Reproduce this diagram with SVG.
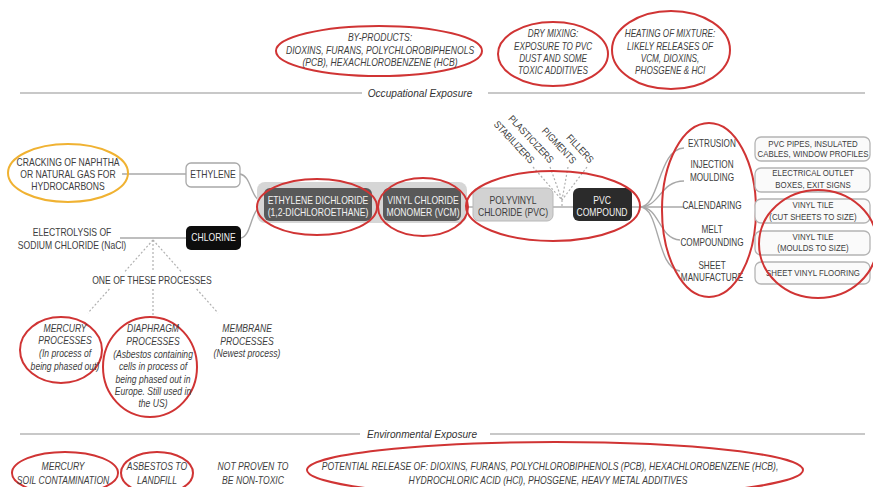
<svg xmlns="http://www.w3.org/2000/svg" width="873" height="487" viewBox="0 0 873 487">
  <style>
    text { font-family: "Liberation Sans", Arial, sans-serif; font-size: 10px; fill: #3d3d3d; text-anchor: middle;
           transform-box: fill-box; transform-origin: center; transform: scaleX(0.86); }
    .it { font-style: italic; }
    .nx { transform: scaleX(0.82); }
    .sm { font-size: 9.6px; transform: scaleX(0.82); }
    .hd { font-size: 11.5px; font-style: italic; fill: #333; transform: scaleX(0.88); }
    .wt { fill: #f2f2f2; }
    .ring { fill: none; stroke: #d03434; stroke-width: 2; }
    .ring-y { fill: none; stroke: #f0b232; stroke-width: 2; }
    .rule { stroke: #c8c8c8; stroke-width: 2; }
    .edge { fill: none; stroke: #a8a8a8; stroke-width: 1.4; }
    .dot { fill: none; stroke: #b0b0b0; stroke-width: 1.2; stroke-dasharray: 2 2; }
    .pbox { fill: #fafafa; stroke: #b4b4b4; stroke-width: 1.3; }
  </style>
  <rect width="873" height="487" fill="#ffffff"/>

  <!-- section rules -->
  <g id="rules">
    <line class="rule" x1="20" y1="93" x2="362" y2="93"/>
    <text class="hd" x="420" y="97">Occupational Exposure</text>
    <line class="rule" x1="488" y1="93" x2="865" y2="93"/>
    <line class="rule" x1="20" y1="434" x2="360" y2="434"/>
    <text class="hd" x="422" y="438">Environmental Exposure</text>
    <line class="rule" x1="490" y1="434" x2="865" y2="434"/>
  </g>

  <!-- connectors -->
  <g id="connectors">
    <line class="edge" x1="122" y1="174" x2="186" y2="174"/>
    <line class="edge" x1="120" y1="238" x2="186" y2="238"/>
    <path class="edge" d="M240,174 C252,176 250,200 264,203"/>
    <path class="edge" d="M241,238 C252,236 250,208 264,205"/>
    <line class="edge" x1="460" y1="207" x2="473" y2="207"/>
    <line class="edge" x1="553" y1="207" x2="573" y2="207"/>
    <path class="edge" d="M632,207 L640,207"/>
    <path class="edge" d="M640,207 C660,207 658,149 684,148"/>
    <path class="edge" d="M640,207 C660,207 660,181 684,181"/>
    <path class="edge" d="M640,207 L684,207"/>
    <path class="edge" d="M640,207 C660,207 658,238 680,240"/>
    <path class="edge" d="M640,207 C660,207 656,268 680,271"/>
    <!-- additives converge onto the PVC line -->
    <path class="dot" d="M533,167 L562,200 M550,167 L562,200 M568,167 L562,200 M587,167 L562,200 M562,200 L562,207"/>
    <!-- electrolysis process options -->
    <path class="dot" d="M153,240 L124.5,272 M109.4,289 L88,313"/>
    <path class="dot" d="M153,240 L153,272 M153,289 L153,316"/>
    <path class="dot" d="M153,240 L181.5,272 M196.6,289 L218,313"/>
  </g>

  <!-- top row: occupational hazards -->
  <g id="byproducts">
    <ellipse class="ring" cx="379" cy="51" rx="103" ry="25"/>
    <text class="it" x="380" y="41">BY-PRODUCTS:</text>
    <text class="it" x="380" y="54">DIOXINS, FURANS, POLYCHLOROBIPHENOLS</text>
    <text class="it" x="380" y="66">(PCB), HEXACHLOROBENZENE (HCB)</text>
  </g>
  <g id="dry-mixing">
    <ellipse class="ring" cx="553" cy="54" rx="55" ry="32"/>
    <text class="it nx" x="553" y="37">DRY MIXING:</text>
    <text class="it nx" x="553" y="50">EXPOSURE TO PVC</text>
    <text class="it nx" x="553" y="62">DUST AND SOME</text>
    <text class="it nx" x="553" y="74">TOXIC ADDITIVES</text>
  </g>
  <g id="heating">
    <ellipse class="ring" cx="671" cy="50" rx="59" ry="39"/>
    <text class="it nx" x="670" y="37">HEATING OF MIXTURE:</text>
    <text class="it nx" x="670" y="50">LIKELY RELEASES OF</text>
    <text class="it nx" x="670" y="62">VCM, DIOXINS,</text>
    <text class="it nx" x="670" y="74">PHOSGENE &amp; HCl</text>
  </g>

  <!-- raw materials -->
  <g id="cracking">
    <ellipse class="ring-y" cx="68" cy="173" rx="60" ry="29"/>
    <text x="68" y="166">CRACKING OF NAPHTHA</text>
    <text x="68" y="178">OR NATURAL GAS FOR</text>
    <text x="68" y="190">HYDROCARBONS</text>
  </g>
  <g id="ethylene">
    <rect x="186" y="163" width="54" height="24" rx="5" fill="#ffffff" stroke="#a8a8a8" stroke-width="1.3"/>
    <text x="213" y="178.5">ETHYLENE</text>
  </g>
  <g id="electrolysis">
    <text x="72" y="236">ELECTROLYSIS OF</text>
    <text x="72" y="249">SODIUM CHLORIDE (NaCl)</text>
  </g>
  <g id="chlorine">
    <rect x="186" y="226" width="55" height="24" rx="5" fill="#0d0d0d"/>
    <text class="wt" x="213.5" y="241.5">CHLORINE</text>
  </g>

  <!-- main chain -->
  <g id="band">
    <rect x="257" y="182" width="210" height="41" rx="8" fill="#d6d6d6"/>
  </g>
  <g id="edc">
    <rect x="264" y="188" width="108" height="33" rx="6" fill="#595959"/>
    <text class="wt" x="318" y="204">ETHYLENE DICHLORIDE</text>
    <text class="wt" x="318" y="216">(1,2-DICHLOROETHANE)</text>
    <ellipse class="ring" cx="317" cy="207" rx="60" ry="28"/>
  </g>
  <g id="vcm">
    <rect x="383" y="188" width="78" height="33" rx="6" fill="#595959"/>
    <text class="wt" x="423" y="204">VINYL CHLORIDE</text>
    <text class="wt" x="423" y="216">MONOMER (VCM)</text>
    <ellipse class="ring" cx="423" cy="207" rx="45" ry="29"/>
  </g>
  <g id="pvc">
    <rect x="473" y="188" width="80" height="33" rx="6" fill="#d2d2d2" stroke="#b8b8b8" stroke-width="1"/>
    <text x="513" y="204">POLYVINYL</text>
    <text x="513" y="216">CHLORIDE (PVC)</text>
  </g>
  <g id="pvc-compound">
    <rect x="573" y="188" width="59" height="33" rx="6" fill="#2b2b2b"/>
    <text class="wt" x="602" y="204">PVC</text>
    <text class="wt" x="602" y="216">COMPOUND</text>
  </g>
  <g id="pvc-ring">
    <ellipse class="ring" cx="553" cy="206" rx="87" ry="35"/>
  </g>

  <!-- additives -->
  <g id="stabilizers"><text x="514" y="145.5" style="transform: rotate(47deg) scaleX(0.86)">STABILIZERS</text></g>
  <g id="plasticizers"><text x="531" y="142.5" style="transform: rotate(47deg) scaleX(0.86)">PLASTICIZERS</text></g>
  <g id="pigments"><text x="559" y="149" style="transform: rotate(47deg) scaleX(0.86)">PIGMENTS</text></g>
  <g id="fillers"><text x="580" y="152" style="transform: rotate(47deg) scaleX(0.86)">FILLERS</text></g>

  <!-- processing methods -->
  <g id="processes">
    <text class="nx" x="712" y="147">EXTRUSION</text>
    <text class="nx" x="712" y="168">INJECTION</text>
    <text class="nx" x="712" y="181">MOULDING</text>
    <text class="nx" x="712" y="209">CALENDARING</text>
    <text class="nx" x="712" y="233">MELT</text>
    <text class="nx" x="712" y="246">COMPOUNDING</text>
    <text class="nx" x="712" y="269">SHEET</text>
    <text class="nx" x="712" y="281">MANUFACTURE</text>
    <ellipse class="ring" cx="709" cy="210" rx="47" ry="87"/>
  </g>

  <!-- products -->
  <g id="prod-pipes">
    <rect class="pbox" x="755" y="137" width="115" height="24" rx="6"/>
    <text class="sm" x="813" y="147">PVC PIPES, INSULATED</text>
    <text class="sm" x="813" y="157">CABLES, WINDOW PROFILES</text>
  </g>
  <g id="prod-outlets">
    <rect class="pbox" x="755" y="168" width="115" height="24" rx="6"/>
    <text class="sm" x="813" y="176.5">ELECTRICAL OUTLET</text>
    <text class="sm" x="813" y="188">BOXES, EXIT SIGNS</text>
  </g>
  <g id="prod-tile-cut">
    <rect class="pbox" x="755" y="199" width="115" height="24" rx="6"/>
    <text class="sm" x="813" y="208.5">VINYL TILE</text>
    <text class="sm" x="813" y="220">(CUT SHEETS TO SIZE)</text>
  </g>
  <g id="prod-tile-mould">
    <rect class="pbox" x="755" y="231" width="115" height="24" rx="6"/>
    <text class="sm" x="813" y="240.5">VINYL TILE</text>
    <text class="sm" x="813" y="251">(MOULDS TO SIZE)</text>
  </g>
  <g id="prod-flooring">
    <rect class="pbox" x="755" y="262" width="115" height="22" rx="6"/>
    <text class="sm" x="813" y="276">SHEET VINYL FLOORING</text>
  </g>
  <g id="prod-ring">
    <ellipse class="ring" cx="818" cy="244" rx="59" ry="54"/>
  </g>

  <!-- chlorine production processes -->
  <g id="one-of">
    <text x="152" y="284">ONE OF THESE PROCESSES</text>
  </g>
  <g id="mercury">
    <ellipse class="ring" cx="61" cy="350" rx="41" ry="33"/>
    <text class="it" x="65" y="332">MERCURY</text>
    <text class="it" x="65" y="344">PROCESSES</text>
    <text class="it" x="65" y="357">(In process of</text>
    <text class="it" x="65" y="370">being phased out)</text>
  </g>
  <g id="diaphragm">
    <ellipse class="ring" cx="150" cy="367" rx="47" ry="50"/>
    <text class="it" x="153" y="332">DIAPHRAGM</text>
    <text class="it" x="153" y="345">PROCESSES</text>
    <text class="it" x="153" y="358">(Asbestos containing</text>
    <text class="it" x="153" y="370">cells in process of</text>
    <text class="it" x="153" y="383">being phased out in</text>
    <text class="it" x="153" y="395">Europe. Still used in</text>
    <text class="it" x="153" y="407">the US)</text>
  </g>
  <g id="membrane">
    <text class="it" x="247" y="332">MEMBRANE</text>
    <text class="it" x="247" y="345">PROCESSES</text>
    <text class="it" x="247" y="357">(Newest process)</text>
  </g>

  <!-- bottom row: environmental hazards -->
  <g id="env-mercury">
    <ellipse class="ring" cx="65" cy="473" rx="53" ry="21"/>
    <text class="it" x="63" y="470">MERCURY</text>
    <text class="it" x="63" y="484">SOIL CONTAMINATION</text>
  </g>
  <g id="env-asbestos">
    <ellipse class="ring" cx="157" cy="473" rx="36" ry="21"/>
    <text class="it" x="157" y="470">ASBESTOS TO</text>
    <text class="it" x="157" y="484">LANDFILL</text>
  </g>
  <g id="env-unproven">
    <text class="it" x="253" y="470">NOT PROVEN TO</text>
    <text class="it" x="253" y="484">BE NON-TOXIC</text>
  </g>
  <g id="env-release">
    <ellipse class="ring" cx="555" cy="470" rx="248" ry="28"/>
    <text class="it" x="550" y="470">POTENTIAL RELEASE OF: DIOXINS, FURANS, POLYCHLOROBIPHENOLS (PCB), HEXACHLOROBENZENE (HCB),</text>
    <text class="it" x="548" y="484">HYDROCHLORIC ACID (HCl), PHOSGENE, HEAVY METAL ADDITIVES</text>
  </g>
</svg>
